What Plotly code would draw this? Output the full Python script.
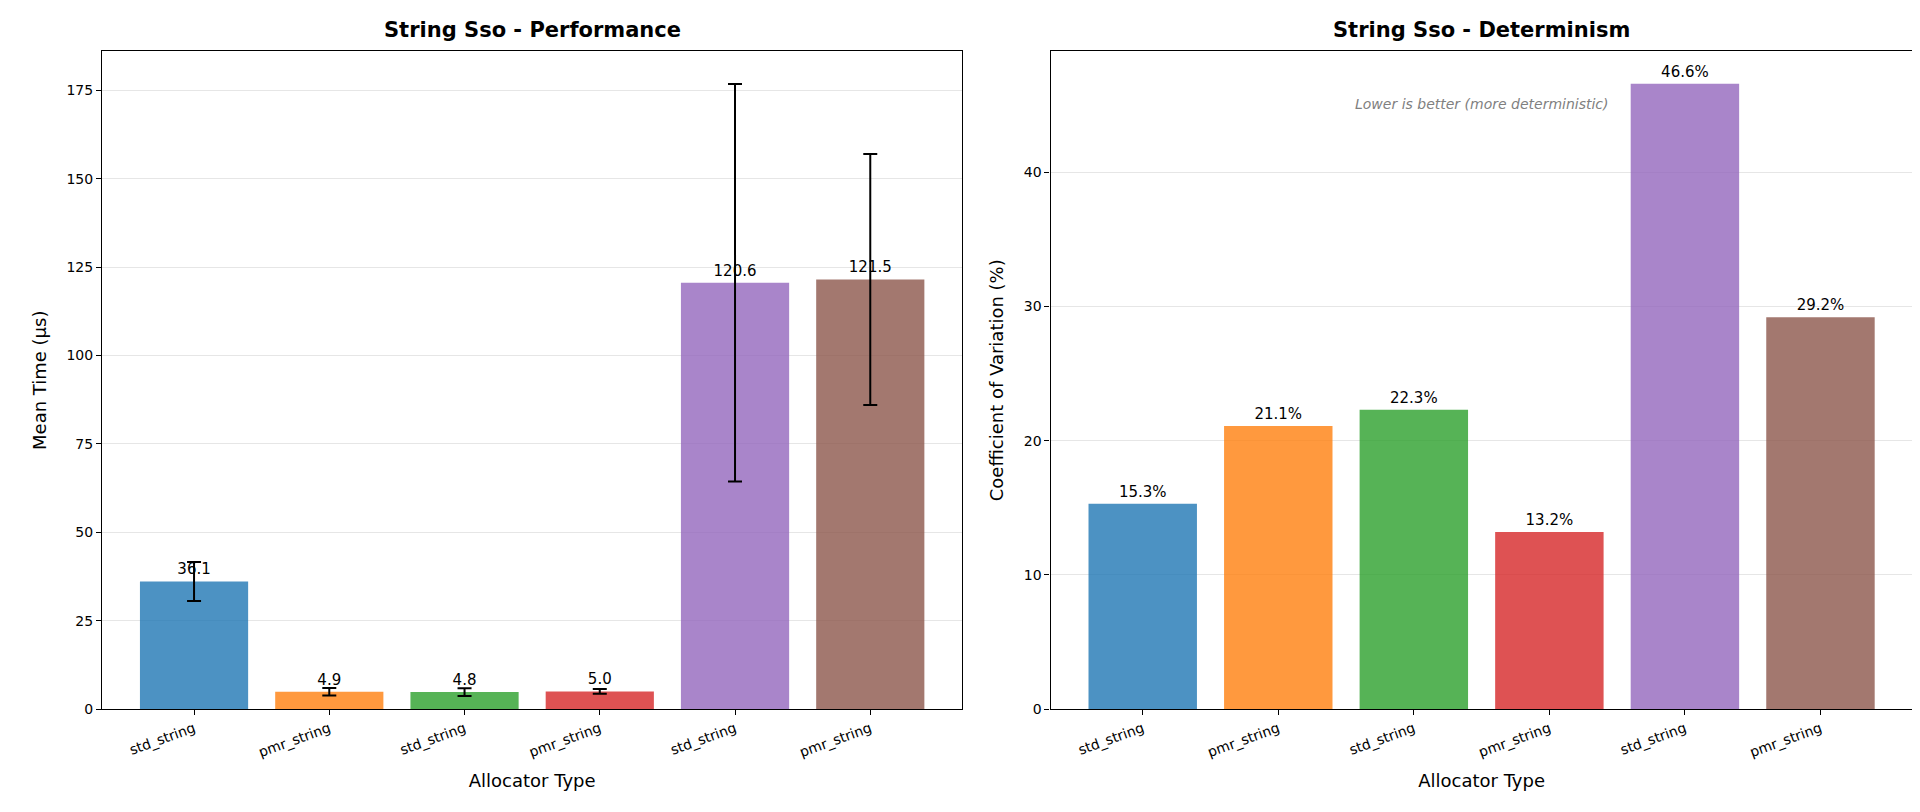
import plotly.graph_objects as go
from plotly.subplots import make_subplots

labels = ["std_string", "pmr_string", "std_string", "pmr_string", "std_string", "pmr_string"]
mean_us = [36.1, 4.9, 4.8, 5.0, 120.6, 121.5]
std_us = [5.5, 1.03, 1.07, 0.66, 56.2, 35.5]
cv_pct = [15.3, 21.1, 22.3, 13.2, 46.6, 29.2]
colors = ["#1f77b4", "#ff7f0e", "#2ca02c", "#d62728", "#9467bd", "#8c564b"]
pos = list(range(len(labels)))

fig = make_subplots(rows=1, cols=2)
FONT = "DejaVu Sans"

fig.add_trace(go.Bar(
    x=pos, y=mean_us, width=0.8, marker=dict(color=colors, opacity=0.8, line_width=0),
    error_y=dict(type="data", array=std_us, color="black", thickness=2, width=7),
    text=[f"{v:.1f}" for v in mean_us], textposition="outside", cliponaxis=False,
    textfont=dict(size=15, color="black"), showlegend=False), row=1, col=1)

fig.add_trace(go.Bar(
    x=pos, y=cv_pct, width=0.8, marker=dict(color=colors, opacity=0.8, line_width=0),
    text=[f"{v:.1f}%" for v in cv_pct], textposition="outside", cliponaxis=False,
    textfont=dict(size=15, color="black"), showlegend=False), row=1, col=2)

axis_common = dict(showline=True, linecolor="black", linewidth=1.2, mirror=True,
                   ticks="outside", tickcolor="black", tickfont=dict(size=14, color="black"))
for c, dom in [(1, [0.049, 0.497]), (2, [0.543, 0.992])]:
    fig.update_xaxes(domain=dom, range=[-0.68, 5.68], tickvals=pos, ticktext=labels,
                     tickangle=-20, showgrid=False, title=dict(text="Allocator Type", font=dict(size=18)),
                     row=1, col=c, **axis_common)
fig.update_yaxes(domain=[0.128, 0.946], row=1, col=1)
fig.update_yaxes(domain=[0.128, 0.946], row=1, col=2)
fig.update_yaxes(range=[0, 186], dtick=25, showgrid=True, gridcolor="#e6e6e6", zeroline=False,
                 title=dict(text="Mean Time (μs)", font=dict(size=18)), row=1, col=1, **axis_common)
fig.update_yaxes(range=[0, 49], dtick=10, showgrid=True, gridcolor="#e6e6e6", zeroline=False,
                 title=dict(text="Coefficient of Variation (%)", font=dict(size=18)), row=1, col=2, **axis_common)

fig.add_annotation(text="<b>String Sso - Performance</b>", xref="x domain", yref="paper",
                   x=0.5, y=0.955, yanchor="bottom", showarrow=False, font=dict(size=21, color="black"))
fig.add_annotation(text="<b>String Sso - Determinism</b>", xref="x2 domain", yref="paper",
                   x=0.5, y=0.955, yanchor="bottom", showarrow=False, font=dict(size=21, color="black"))
fig.add_annotation(text="<i>Lower is better (more deterministic)</i>", xref="x2 domain", yref="y2 domain",
                   x=0.5, y=0.935, showarrow=False, font=dict(size=14, color="gray"))

fig.update_layout(width=1920, height=812, margin=dict(l=0, r=0, t=0, b=0),
                  plot_bgcolor="white", paper_bgcolor="white", bargap=0.2,
                  font=dict(family=FONT, color="black"))
fig.write_html("out.html")
